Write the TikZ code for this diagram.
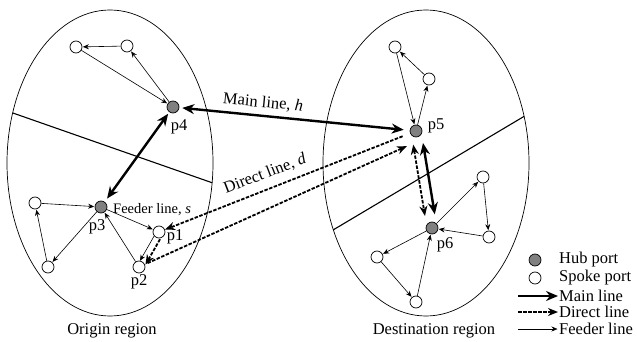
\documentclass[tikz,border=0pt]{standalone}
\usepackage{fontspec}
\setmainfont{Liberation Serif}
\usetikzlibrary{arrows.meta,calc}
\definecolor{hubgray}{RGB}{128,128,128}
\begin{document}
\begin{tikzpicture}[x=1pt,y=-1pt,
  port/.style={circle,draw,line width=0.7pt,minimum size=12pt,inner sep=0pt},
  hub/.style={port,fill=hubgray},
  spoke/.style={port,fill=white},
  feeder/.style={-{Stealth[length=6pt,width=5pt]},line width=0.6pt,shorten >=0.5pt},
  mainline/.style={{Stealth[length=12pt,width=10pt]}-{Stealth[length=12pt,width=10pt]},line width=2.4pt},
  directline/.style={line width=1.8pt,dash pattern=on 3.5pt off 1.5pt},
  dtip/.style={-{Stealth[length=10pt,width=8pt]}},
  dboth/.style={{Stealth[length=10pt,width=8pt]}-{Stealth[length=10pt,width=8pt]}},
  region/.style={line width=0.7pt},
  divider/.style={line width=1.1pt},
  lbl/.style={inner sep=0pt,font=\fontsize{16.5}{18}\selectfont},
  smalllbl/.style={inner sep=0pt,font=\fontsize{14.5}{16}\selectfont}
]
\useasboundingbox (0,0) rectangle (637,342);

% regions
\draw[region] (110,163) ellipse [x radius=103, y radius=153];
\draw[region] (426,163) ellipse [x radius=103, y radius=153];
\begin{scope}
  \clip (110,163) ellipse [x radius=103, y radius=153];
  \draw[divider] (0,108.5) -- (230,189);
\end{scope}
\begin{scope}
  \clip (426,163) ellipse [x radius=103, y radius=153];
  \draw[divider] (310,243.7) -- (540,106.9);
\end{scope}

% origin ports
\node[spoke] (oTL) at (76,47) {};
\node[spoke] (oTR) at (127,46) {};
\node[hub]   (p4)  at (173,107) {};
\node[hub]   (p3)  at (101,207) {};
\node[spoke] (oL)  at (35,203) {};
\node[spoke] (oBL) at (48,267) {};
\node[spoke] (p1)  at (159,232) {};
\node[spoke] (p2)  at (139,267) {};

% destination ports
\node[spoke] (dT)  at (395,47) {};
\node[spoke] (dR)  at (429,79) {};
\node[hub]   (p5)  at (416,131) {};
\node[hub]   (p6)  at (432,228) {};
\node[spoke] (dUR) at (483,177) {};
\node[spoke] (dRR) at (489,237) {};
\node[spoke] (dL)  at (377,257) {};
\node[spoke] (dB)  at (416,302) {};

% feeder lines (origin)
\draw[feeder] (oTR) -- (oTL);
\draw[feeder] (oTL) -- (p4);
\draw[feeder] (p4) -- (oTR);
\draw[feeder] (oL) -- (p3);
\draw[feeder] (p3) -- (oBL);
\draw[feeder] (oBL) -- (oL);
\draw[feeder] (p3) -- (p1);
\draw[feeder] (p2) -- (p3);
\draw[feeder,shorten <=6pt,shorten >=6pt] ($(p1)+(-2,-1)$) -- ($(p2)+(-2,-1)$);

% feeder lines (destination)
\draw[feeder] (dT) -- (p5);
\draw[feeder] (p5) -- (dR);
\draw[feeder] (dR) -- (dT);
\draw[feeder] (p6) -- (dUR);
\draw[feeder] (dUR) -- (dRR);
\draw[feeder] (dRR) -- (p6);
\draw[feeder] (p6) -- (dL);
\draw[feeder] (dL) -- (dB);
\draw[feeder] (dB) -- (p6);

% main lines
\draw[mainline,shorten <=3pt,shorten >=6pt] (p4) -- (p5);
\draw[mainline,shorten <=2pt,shorten >=4pt] (p4) -- (p3);
\draw[mainline,shorten <=13pt,shorten >=13pt] ($(p5)+(4.9,-0.8)$) -- ($(p6)+(4.9,-0.8)$);

% direct lines
\draw[directline,dtip,shorten <=8pt] (p5) -- (p1);
\draw[directline,dtip,shorten <=3pt,shorten >=10pt] (p2) -- ($(p5.center)+(0,11)$);
\draw[directline,dtip,shorten <=6pt,shorten >=5pt] ($(p1)+(4,2)$) -- ($(p2)+(4,2)$);
\draw[directline,dboth,shorten <=13pt,shorten >=13pt] ($(p5)+(-4.9,0.8)$) -- ($(p6)+(-4.9,0.8)$);

% labels
\node[lbl] (lp4) at (179,127) {p4};
\node[lbl] (lp3) at (97,227) {p3};
\node[lbl] (lp1) at (175,237) {p1};
\node[lbl] (lp2) at (139,282) {p2};
\node[lbl] (lp5) at (436,126) {p5};
\node[lbl] (lp6) at (445,245) {p6};
\node[smalllbl,anchor=west] (lfeed) at (113,210) {Feeder line, \textit{s}};
\node[lbl,rotate=-5.5] (lmain) at (263,103) {Main line, \textit{h}};
\node[lbl,rotate=21] (ldirect) at (265,174) {Direct line, \textit{d}};
\node[lbl] (lorig) at (112,331) {Origin region};
\node[lbl] (ldest) at (434,331) {Destination region};

% legend
\node[hub]   (leghub)   at (535,260) {};
\node[spoke] (legspoke) at (535,278) {};
\node[lbl,anchor=west] (tleghub) at (559,260) {Hub port};
\node[lbl,anchor=west] (tlegspoke) at (559,278) {Spoke port};
\coordinate (lm1) at (518,296);
\coordinate (lm2) at (558,296);
\coordinate (ld1) at (518,312);
\coordinate (ld2) at (558,312);
\coordinate (lf1) at (518,329);
\coordinate (lf2) at (558,329);
\draw[line width=2.4pt,-{Stealth[length=12pt,width=10pt]}] (lm1) -- (lm2);
\draw[directline,dtip] (ld1) -- (ld2);
\draw[feeder] (lf1) -- (lf2);
\node[lbl,anchor=west] (tlegmain) at (559,296) {Main line};
\node[lbl,anchor=west] (tlegdirect) at (559,312) {Direct line};
\node[lbl,anchor=west] (tlegfeed) at (559,329) {Feeder line};
\end{tikzpicture}
\end{document}
